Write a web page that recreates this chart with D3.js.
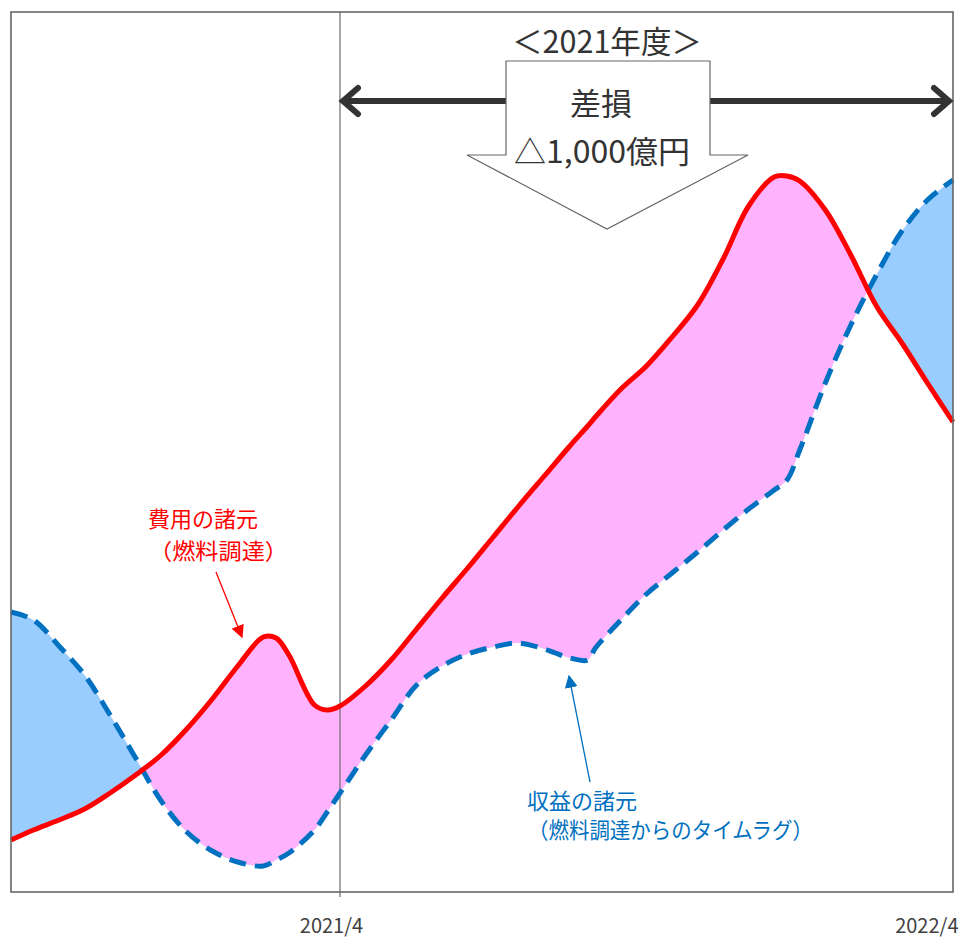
<!DOCTYPE html>
<html>
<head>
<meta charset="utf-8">
<script src="https://cdn.jsdelivr.net/npm/d3@7"></script>
<style>
  body { margin: 0; background: #fff; }
  text { font-family: "Noto Sans CJK JP", "Noto Sans", sans-serif; }
</style>
</head>
<body>
<div id="chart"></div>
<script>
// months counted from 2021/4 (0 = 2021/4, 12 = 2022/4)
const months = [-6.44, -6, -5.5, -5, -4.5, -4, -3.5, -3, -2.5, -2, -1.5, -1.25, -1, -0.5,
  -0.25, 0, 0.5, 1, 1.5, 2, 2.5, 3, 3.5, 4, 4.5, 4.85, 5, 5.5, 6, 6.5, 7, 7.5, 8, 8.5,
  8.75, 9, 9.5, 10, 10.5, 11, 11.5, 12];

// 費用の諸元（燃料調達） - index level
const costIndex = [52, 62, 72, 83, 99, 117, 137, 163, 193, 226, 255, 254, 237, 187,
  182, 186, 206, 232, 263, 294, 324, 355, 386, 416, 446, 466, 475, 503, 526, 555, 587,
  633, 686, 715, 716, 711, 682, 637, 586, 549, 509, 470];

// 収益の諸元（燃料調達からのタイムラグ）
const revenueIndex = [280, 272, 246, 217, 177, 134, 91, 60, 41, 30, 26, 32, 39, 62,
  80, 99, 137, 172, 207, 226, 238, 245, 249, 243, 234, 232, 244, 272, 298, 319, 340,
  362, 383, 402, 412, 442, 509, 567, 617, 661, 692, 712];

const tickValues = [0, 12];
const tickLabels = ["2021/4", "2022/4"];

const W = 962, H = 938;
const margin = { top: 12, right: 9, bottom: 46, left: 11 };
const width = W - margin.left - margin.right,
      height = H - margin.top - margin.bottom;

const svg = d3.select("#chart").append("svg")
  .attr("width", W).attr("height", H);

const defs = svg.append("defs");

const g = svg.append("g")
  .attr("transform", `translate(${margin.left},${margin.top})`);

const x = d3.scaleLinear().domain([d3.min(months), 12]).range([0, width]);
const y = d3.scaleLinear().domain([0, 880]).range([height, 0]);

const data = months.map((m, i) => ({ m, cost: costIndex[i], rev: revenueIndex[i] }));
const curve = d3.curveCatmullRom.alpha(0.5);

// clip regions above / below the revenue line
defs.append("clipPath").attr("id", "aboveRev").append("path")
  .attr("d", d3.area().curve(curve).x(d => x(d.m)).y0(-20).y1(d => y(d.rev))(data));
defs.append("clipPath").attr("id", "belowRev").append("path")
  .attr("d", d3.area().curve(curve).x(d => x(d.m)).y0(height + 20).y1(d => y(d.rev))(data));

const between = d3.area().curve(curve)
  .x(d => x(d.m)).y0(d => y(d.rev)).y1(d => y(d.cost));

// cost above revenue -> pink, revenue above cost -> light blue
g.append("path").attr("clip-path", "url(#aboveRev)")
  .attr("d", between(data)).attr("fill", "#FFB3FF");
g.append("path").attr("clip-path", "url(#belowRev)")
  .attr("d", between(data)).attr("fill", "#99CCFF");

// 2021/4 divider
g.append("line")
  .attr("x1", x(0)).attr("x2", x(0))
  .attr("y1", 0).attr("y2", height + 5)
  .attr("stroke", "#6b6b6b").attr("stroke-width", 1.2);

// lines
g.append("path")
  .attr("d", d3.line().curve(curve).x(d => x(d.m)).y(d => y(d.rev))(data))
  .attr("fill", "none").attr("stroke", "#0070C0")
  .attr("stroke-width", 5).attr("stroke-dasharray", "17,9");

g.append("path")
  .attr("d", d3.line().curve(curve).x(d => x(d.m)).y(d => y(d.cost))(data))
  .attr("fill", "none").attr("stroke", "#FF0000")
  .attr("stroke-width", 5).attr("stroke-linejoin", "round");

// frame
g.append("rect")
  .attr("width", width).attr("height", height)
  .attr("fill", "none").attr("stroke", "#666").attr("stroke-width", 1.6);

// x axis labels
const xAxis = g.append("g")
  .attr("transform", `translate(0,${height})`)
  .call(d3.axisBottom(x).tickValues(tickValues).tickSize(0).tickPadding(27)
    .tickFormat((d, i) => tickLabels[i]));
xAxis.select(".domain").remove();
xAxis.selectAll("text")
  .attr("font-size", 20).attr("fill", "#404040")
  .attr("font-family", "'Noto Sans', sans-serif")
  .attr("text-anchor", (d, i) => i === tickLabels.length - 1 ? "end" : "middle")
  .attr("dx", (d, i) => i === tickLabels.length - 1 ? 5 : -9);

// ---- annotations ----
const ann = svg.append("g");

// period arrow  <------>
const ay = 101, ax1 = margin.left + x(0) + 3, ax2 = margin.left + x(12) - 4;
ann.append("line").attr("x1", ax1 + 2).attr("x2", ax2 - 2).attr("y1", ay).attr("y2", ay)
  .attr("stroke", "#333").attr("stroke-width", 6);
[[ax1, 1], [ax2, -1]].forEach(([px, s]) => {
  ann.append("path")
    .attr("d", `M${px + s * 15},${ay - 13} L${px},${ay} L${px + s * 15},${ay + 13}`)
    .attr("fill", "none").attr("stroke", "#333").attr("stroke-width", 6)
    .attr("stroke-linecap", "round").attr("stroke-linejoin", "miter");
});

// block down-arrow
ann.append("path")
  .attr("d", "M506,61 L710,61 L710,155 L748,155 L607,229 L467,155 L506,155 Z")
  .attr("fill", "#fff").attr("stroke", "#666").attr("stroke-width", 1.2);

ann.append("text").attr("x", 607).attr("y", 39)
  .attr("text-anchor", "middle").attr("dominant-baseline", "central")
  .attr("font-size", 31).attr("fill", "#333")
  .attr("textLength", 190).attr("lengthAdjust", "spacingAndGlyphs")
  .text("＜2021年度＞");
ann.append("text").attr("x", 601).attr("y", 101)
  .attr("text-anchor", "middle").attr("dominant-baseline", "central")
  .attr("font-size", 31).attr("fill", "#333")
  .text("差損");
ann.append("text").attr("x", 602).attr("y", 149)
  .attr("text-anchor", "middle").attr("dominant-baseline", "central")
  .attr("font-size", 31).attr("fill", "#333")
  .attr("textLength", 176).attr("lengthAdjust", "spacingAndGlyphs")
  .text("△1,000億円");

// callouts
function marker(id, color) {
  defs.append("marker").attr("id", id)
    .attr("viewBox", "0 0 10 10").attr("refX", 9).attr("refY", 5)
    .attr("markerWidth", 13).attr("markerHeight", 13).attr("orient", "auto")
    .attr("markerUnits", "userSpaceOnUse")
    .append("path").attr("d", "M0,0 L10,5 L0,10 Z").attr("fill", color);
}
marker("headRed", "#FF0000");
marker("headBlue", "#0070C0");

ann.append("line").attr("x1", 216).attr("y1", 572).attr("x2", 242).attr("y2", 637)
  .attr("stroke", "#FF0000").attr("stroke-width", 1.3).attr("marker-end", "url(#headRed)");
ann.append("line").attr("x1", 590).attr("y1", 782).attr("x2", 569).attr("y2", 676)
  .attr("stroke", "#0070C0").attr("stroke-width", 1.3).attr("marker-end", "url(#headBlue)");

const redLab = ann.append("text").attr("fill", "#FF0000").attr("font-size", 22);
redLab.append("tspan").attr("x", 148).attr("y", 527).text("費用の諸元");
redLab.append("tspan").attr("x", 149).attr("y", 559).attr("textLength", 139)
  .attr("lengthAdjust", "spacingAndGlyphs").text("（燃料調達）");

const blueLab = ann.append("text").attr("fill", "#0070C0").attr("font-size", 22);
blueLab.append("tspan").attr("x", 527).attr("y", 809).text("収益の諸元");
blueLab.append("tspan").attr("x", 528).attr("y", 838).attr("textLength", 285)
  .attr("lengthAdjust", "spacingAndGlyphs").text("（燃料調達からのタイムラグ）");
</script>
</body>
</html>
